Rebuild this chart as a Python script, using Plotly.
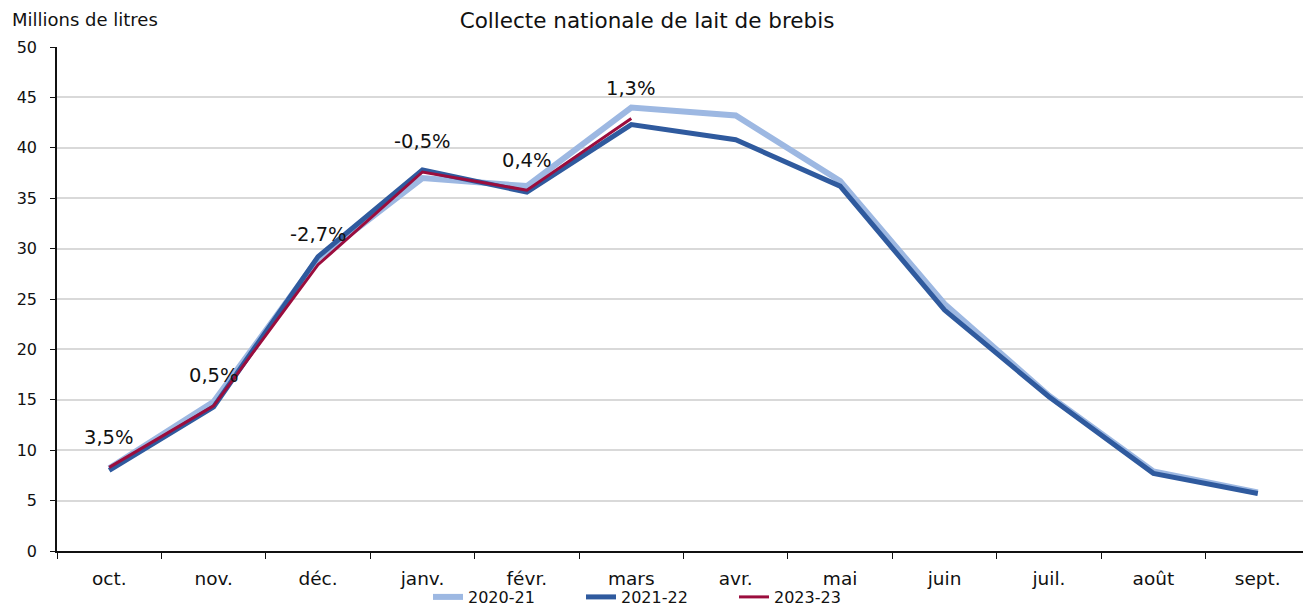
import plotly.graph_objects as go

months = ["oct.", "nov.", "déc.", "janv.", "févr.", "mars", "avr.", "mai", "juin", "juil.", "août", "sept."]
s2020 = [8.2, 14.8, 29.0, 37.0, 36.2, 44.0, 43.2, 36.7, 24.5, 15.4, 7.9, 5.8]
s2021 = [8.0, 14.3, 29.2, 37.8, 35.6, 42.3, 40.8, 36.2, 23.9, 15.3, 7.7, 5.7]
s2023 = [8.3, 14.4, 28.4, 37.6, 35.8, 42.9]
labels = ["3,5%", "0,5%", "-2,7%", "-0,5%", "0,4%", "1,3%"]
yticks = [0, 5, 10, 15, 20, 25, 30, 35, 40, 45, 50]

FONT = "DejaVu Sans"

fig = go.Figure()
fig.add_trace(go.Scatter(x=months, y=s2020, name="2020-21", mode="lines",
                         line=dict(color="#9db8e2", width=6)))
fig.add_trace(go.Scatter(x=months, y=s2021, name="2021-22", mode="lines",
                         line=dict(color="#2f5a9e", width=5)))
fig.add_trace(go.Scatter(x=months[:len(s2023)], y=s2023, name="2023-23", mode="lines",
                         line=dict(color="#9b0d3d", width=3)))

for m, v, t in zip(months, s2023, labels):
    fig.add_annotation(x=m, y=v, text=t, showarrow=False, yshift=30,
                       font=dict(size=19.5, color="#111111", family=FONT))

fig.add_annotation(xref="paper", yref="paper", x=-47/1246, y=1.0, yshift=28,
                   xanchor="left", yanchor="middle", text="Millions de litres",
                   showarrow=False, font=dict(size=18, color="#111111", family=FONT))

fig.update_layout(
    width=1303, height=606,
    margin=dict(l=57, r=0, t=47, b=55, autoexpand=False),
    paper_bgcolor="white", plot_bgcolor="white",
    title=dict(text="Collecte nationale de lait de brebis", x=647/1303, xanchor="center",
               y=1 - 20/606, yanchor="middle", font=dict(size=21.5, color="#111111", family=FONT)),
    showlegend=True,
    legend=dict(orientation="h", xref="container", yref="container", x=428/1303, xanchor="left",
                y=9/606, yanchor="middle", font=dict(size=16, color="#111111", family=FONT),
                tracegroupgap=0, bgcolor="rgba(0,0,0,0)", entrywidth=108, entrywidthmode="pixels"),
)
fig.update_xaxes(type="category", range=[-0.5, 11.433], tickson="boundaries",
                 showgrid=False, showline=True, linecolor="#111111", linewidth=1.5,
                 ticks="outside", ticklen=6, tickcolor="#111111", ticklabelstandoff=10,
                 tickfont=dict(size=18.5, color="#111111", family=FONT))
fig.update_yaxes(range=[0, 50], tickvals=yticks, showgrid=True, gridcolor="#d9d9d9",
                 gridwidth=1.5, showline=True, linecolor="#111111", linewidth=1.5,
                 ticks="outside", ticklen=5, tickcolor="#111111", zeroline=False,
                 ticklabelstandoff=10,
                 tickfont=dict(size=16, color="#111111", family=FONT))

fig.write_html("out.html", config={"displayModeBar": False},
               post_script="document.body.style.margin='0';document.body.style.overflow='hidden';")
